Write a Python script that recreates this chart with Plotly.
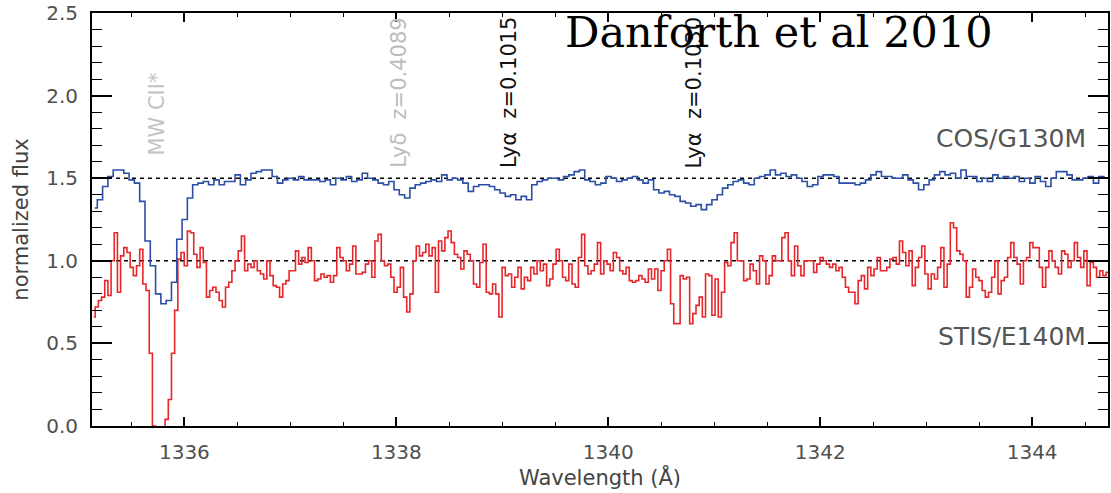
import numpy as np
import plotly.graph_objects as go

# ---------------- data ----------------
cos_start = 1335.128   # wavelength of first COS bin edge (Å)
cos_step = 0.05        # COS bin width (Å)
cos_flux = [
    1.32, 1.37, 1.45, 1.51, 1.55, 1.55, 1.53, 1.49, 1.47, 1.36,
    1.12, 0.97, 0.80, 0.74, 0.76, 0.87, 1.13, 1.25, 1.38, 1.46,
    1.47, 1.48, 1.46, 1.49, 1.46, 1.48, 1.48, 1.52, 1.46, 1.49,
    1.53, 1.54, 1.55, 1.55, 1.51, 1.47, 1.49, 1.50, 1.49, 1.51,
    1.49, 1.49, 1.49, 1.48, 1.49, 1.46, 1.50, 1.49, 1.51, 1.48,
    1.49, 1.53, 1.50, 1.49, 1.47, 1.46, 1.48, 1.43, 1.40, 1.38,
    1.44, 1.46, 1.47, 1.48, 1.49, 1.48, 1.52, 1.49, 1.50, 1.49,
    1.47, 1.42, 1.45, 1.46, 1.46, 1.45, 1.43, 1.41, 1.39, 1.40,
    1.37, 1.39, 1.37, 1.46, 1.48, 1.49, 1.50, 1.50, 1.49, 1.51,
    1.52, 1.54, 1.55, 1.49, 1.48, 1.46, 1.47, 1.51, 1.50, 1.48,
    1.49, 1.50, 1.51, 1.49, 1.47, 1.49, 1.43, 1.41, 1.42, 1.40,
    1.39, 1.36, 1.35, 1.33, 1.34, 1.31, 1.34, 1.37, 1.40, 1.44,
    1.46, 1.48, 1.49, 1.47, 1.46, 1.50, 1.51, 1.52, 1.55, 1.52,
    1.53, 1.51, 1.52, 1.50, 1.48, 1.45, 1.46, 1.51, 1.52, 1.52,
    1.51, 1.47, 1.47, 1.47, 1.46, 1.47, 1.49, 1.52, 1.54, 1.51,
    1.51, 1.50, 1.50, 1.52, 1.49, 1.47, 1.43, 1.46, 1.49, 1.52,
    1.54, 1.52, 1.53, 1.50, 1.55, 1.51, 1.51, 1.48, 1.50, 1.48,
    1.52, 1.50, 1.51, 1.50, 1.51, 1.48, 1.50, 1.47, 1.51, 1.48,
    1.45, 1.50, 1.54, 1.54, 1.52, 1.49, 1.49, 1.50, 1.51, 1.47,
    1.51, 1.50, 1.50,
]

stis_start = 1335.128  # wavelength of first STIS bin edge (Å)
stis_step = 0.03       # STIS bin width (Å)
stis_flux = [
    0.66, 0.72, 0.76, 0.78, 0.88, 0.79, 1.00, 1.17, 0.81, 1.03,
    1.08, 1.05, 0.96, 0.91, 0.97, 1.07, 0.86, 0.82, 0.44, 0.00,
    -0.02, -0.02, -0.01, 0.04, 0.16, 0.44, 0.70, 1.01, 1.05, 0.97,
    1.18, 1.17, 1.04, 0.96, 1.08, 0.99, 0.78, 0.82, 0.84, 0.81,
    0.76, 0.72, 0.84, 0.87, 0.94, 1.00, 1.06, 1.15, 0.94, 0.98,
    0.96, 1.00, 0.94, 0.92, 0.89, 1.00, 0.91, 0.85, 0.84, 0.78,
    0.86, 0.88, 0.94, 0.94, 1.06, 0.98, 1.02, 0.99, 1.08, 1.00,
    0.88, 0.89, 0.92, 0.90, 0.91, 0.87, 0.91, 1.08, 1.02, 1.00,
    0.94, 0.98, 1.09, 0.92, 0.92, 0.93, 0.98, 1.00, 0.90, 1.12,
    1.16, 1.00, 0.97, 0.98, 0.90, 0.81, 0.84, 0.96, 0.78, 0.69,
    0.80, 1.00, 1.09, 1.03, 1.05, 1.10, 1.03, 1.08, 0.81, 1.12,
    1.06, 1.14, 1.18, 1.11, 1.04, 1.02, 0.95, 1.06, 1.04, 1.00,
    0.86, 0.84, 0.99, 1.10, 0.81, 0.80, 0.86, 0.80, 0.66, 0.96,
    0.91, 0.92, 0.84, 0.90, 0.96, 0.83, 0.90, 0.88, 0.96, 0.92,
    1.00, 0.94, 0.98, 0.85, 0.89, 0.98, 1.07, 1.00, 0.90, 0.88,
    0.98, 0.86, 0.84, 1.02, 1.16, 0.97, 0.92, 0.94, 0.98, 1.11,
    0.92, 1.00, 0.98, 0.94, 1.05, 1.02, 0.94, 0.92, 0.96, 0.88,
    0.87, 0.88, 0.91, 0.89, 0.87, 0.95, 0.89, 0.95, 0.82, 0.94,
    1.00, 1.07, 0.74, 0.62, 0.62, 0.91, 0.89, 0.90, 0.62, 0.68,
    0.73, 0.78, 0.66, 0.92, 0.91, 0.67, 0.89, 0.66, 0.81, 0.99,
    0.97, 1.11, 1.17, 1.00, 1.00, 0.88, 0.89, 0.98, 0.94, 0.86,
    1.03, 1.00, 0.86, 0.91, 1.03, 1.00, 1.00, 1.14, 1.17, 1.00,
    0.91, 1.09, 0.97, 0.91, 1.00, 1.00, 1.00, 0.93, 0.98, 1.02,
    1.00, 0.98, 0.96, 0.98, 0.94, 0.96, 0.90, 0.84, 0.81, 0.81,
    0.74, 0.88, 0.91, 0.83, 0.96, 0.91, 0.95, 1.02, 0.94, 0.94,
    0.96, 1.01, 1.02, 0.98, 1.12, 1.05, 0.97, 1.06, 0.85, 0.96,
    1.02, 1.09, 0.92, 0.83, 0.92, 0.89, 0.96, 1.08, 0.84, 0.98,
    1.23, 1.20, 1.06, 1.04, 1.00, 0.78, 0.84, 0.95, 0.90, 0.88,
    0.82, 0.78, 0.81, 0.90, 1.00, 0.80, 0.88, 0.90, 1.02, 1.11,
    1.02, 0.98, 0.86, 1.00, 1.02, 1.11, 1.08, 1.08, 0.96, 0.84,
    0.96, 1.06, 1.00, 0.96, 0.92, 1.06, 1.04, 0.96, 1.00, 1.11,
    1.02, 0.96, 1.06, 0.85, 0.99, 0.96, 0.90, 0.94, 0.91, 0.93,
    0.92,
]

continuum_levels = [1.5, 1.0]

line_labels = ["MW CII*", "Lyδ  z=0.4089", "Lyα  z=0.1015", "Lyα  z=0.1030"]
line_waves = [1335.74, 1338.03, 1339.07, 1340.81]
line_label_y = [1.89, 2.02, 2.02, 2.02]
line_label_colors = ["#c4c4c4", "#bdbdbd", "#111111", "#111111"]

x_range = [1335.128, 1344.716]
y_range = [0.0, 2.5]
x_ticks = [1336, 1338, 1340, 1342, 1344]
y_ticks = [0.0, 0.5, 1.0, 1.5, 2.0, 2.5]

# ---------------- figure ----------------
cos_wave = cos_start + cos_step * (np.arange(len(cos_flux)) + 0.5)
stis_wave = stis_start + stis_step * (np.arange(len(stis_flux)) + 0.5)

fig = go.Figure()

for lvl in continuum_levels:
    fig.add_trace(go.Scatter(
        x=x_range, y=[lvl, lvl], mode="lines",
        line=dict(color="black", width=1.5, dash="4px,4px"),
        hoverinfo="skip", showlegend=False))

fig.add_trace(go.Scatter(
    x=stis_wave, y=stis_flux, mode="lines", line_shape="hvh",
    line=dict(color="#e8262a", width=1.6), showlegend=False))
fig.add_trace(go.Scatter(
    x=cos_wave, y=cos_flux, mode="lines", line_shape="hvh",
    line=dict(color="#2b4ea6", width=1.6), showlegend=False))

tick_font = dict(family="DejaVu Sans", size=20, color="#505050")

fig.update_xaxes(
    range=x_range, tickmode="array", tickvals=x_ticks,
    ticks="inside", ticklen=9, tickwidth=1.5, tickcolor="black",
    showline=True, linecolor="black", linewidth=1.8, mirror="ticks",
    showgrid=False, zeroline=False, tickfont=tick_font,
    ticklabelstandoff=7,
    minor=dict(dtick=0.5, tick0=1336, ticks="inside", ticklen=4,
               tickwidth=1.2, tickcolor="black", showgrid=False),
    title=dict(text="Wavelength (Å)", standoff=6,
               font=dict(family="DejaVu Sans", size=21, color="#444444")),
)
fig.update_yaxes(
    range=y_range, tickmode="array", tickvals=y_ticks,
    ticktext=[f"{v:.1f}" for v in y_ticks],
    ticks="inside", ticklen=20, tickwidth=1.5, tickcolor="black",
    showline=True, linecolor="black", linewidth=1.8, mirror="ticks",
    showgrid=False, zeroline=False, tickfont=tick_font,
    ticklabelstandoff=8,
    minor=dict(dtick=0.1, tick0=0, ticks="inside", ticklen=10,
               tickwidth=1.2, tickcolor="black", showgrid=False),
    title=dict(text="normalized flux", standoff=12,
               font=dict(family="DejaVu Sans", size=21, color="#444444")),
)

for txt, w, yv, col in zip(line_labels, line_waves, line_label_y, line_label_colors):
    fig.add_annotation(x=w, y=yv, xref="x", yref="y", text=txt, showarrow=False,
                       textangle=-90, xanchor="center", yanchor="middle",
                       font=dict(family="DejaVu Sans", size=21, color=col))

fig.add_annotation(x=1344.53, y=1.74, xref="x", yref="y", text="COS/G130M",
                   showarrow=False, xanchor="right", yanchor="middle",
                   font=dict(family="DejaVu Sans", size=25, color="#555555"))
fig.add_annotation(x=1344.53, y=0.54, xref="x", yref="y", text="STIS/E140M",
                   showarrow=False, xanchor="right", yanchor="middle",
                   font=dict(family="DejaVu Sans", size=25, color="#555555"))

# title annotation placed in paper coordinates (pixel position converted)
plot_w = 1111 - 92 - 1
plot_h = 493 - 12 - 67
fig.add_annotation(x=(780 - 92) / plot_w, y=1 - (31 - 12) / plot_h,
                   xref="paper", yref="paper", text="Danforth et al 2010",
                   showarrow=False, xanchor="center", yanchor="middle",
                   font=dict(family="DejaVu Serif", size=43, color="black"))

fig.update_layout(
    width=1111, height=493,
    margin=dict(l=92, r=1, t=12, b=67),
    paper_bgcolor="white", plot_bgcolor="white",
    showlegend=False,
)

fig.write_html("out.html", config={"displayModeBar": False})
